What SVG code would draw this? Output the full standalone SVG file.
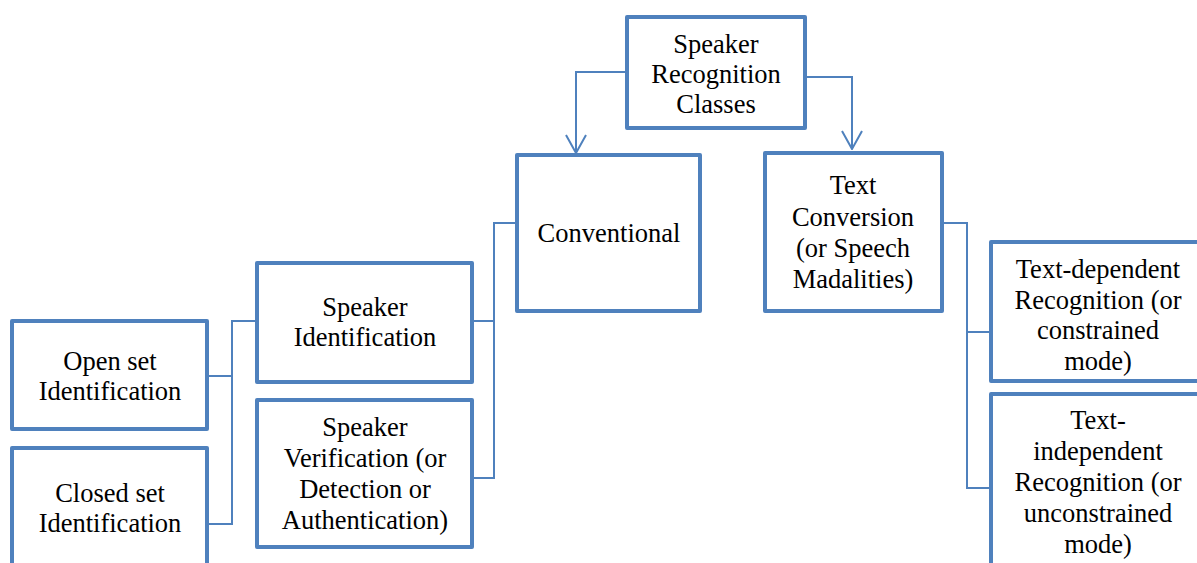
<svg xmlns="http://www.w3.org/2000/svg" width="1197" height="563" viewBox="0 0 1197 563">
<style>
.box{fill:#fff;stroke:#4F81BD;stroke-width:4;stroke-linejoin:round}
.con{fill:none;stroke:#4F81BD;stroke-width:2}
text{font-family:"Liberation Serif","Times New Roman",serif;font-size:26.5px;fill:#000;text-anchor:middle}
</style>
<defs>
<marker id="arr" viewBox="0 0 20 22" refX="19" refY="11" markerWidth="20" markerHeight="22" markerUnits="userSpaceOnUse" orient="auto">
<path d="M1,1 L19,11 L1,21" fill="none" stroke="#4F81BD" stroke-width="2"/>
</marker>
</defs>
<rect width="1197" height="563" fill="#fff"/>
<g id="connectors">
<path class="con" d="M627,72 H576 V153" marker-end="url(#arr)"/>
<path class="con" d="M805,77 H852 V149" marker-end="url(#arr)"/>
<path class="con" d="M517,223 H494 V478 H472 M494,321 H472"/>
<path class="con" d="M257,321 H232 V524 H207 M232,376 H207"/>
<path class="con" d="M942,223 H967 V488 H991 M967,332 H991"/>
</g>
<g id="root">
<rect class="box" x="627" y="17" width="178" height="111"/>
<text x="716" y="53">Speaker</text>
<text x="716" y="83">Recognition</text>
<text x="716" y="113">Classes</text>
</g>
<g id="conventional">
<rect class="box" x="517" y="155" width="183" height="156"/>
<text x="609" y="242">Conventional</text>
</g>
<g id="text-conversion">
<rect class="box" x="765" y="153" width="177" height="158"/>
<text x="853" y="194">Text</text>
<text x="853" y="226">Conversion</text>
<text x="853" y="257">(or Speech</text>
<text x="853" y="288">Madalities)</text>
</g>
<g id="speaker-identification">
<rect class="box" x="257" y="263" width="215" height="119"/>
<text x="365" y="316">Speaker</text>
<text x="365" y="346">Identification</text>
</g>
<g id="speaker-verification">
<rect class="box" x="257" y="400" width="215" height="147"/>
<text x="365" y="436">Speaker</text>
<text x="365" y="467">Verification (or</text>
<text x="365" y="498">Detection or</text>
<text x="365" y="529">Authentication)</text>
</g>
<g id="open-set">
<rect class="box" x="12" y="321" width="195" height="108"/>
<text x="110" y="370">Open set</text>
<text x="110" y="400">Identification</text>
</g>
<g id="closed-set">
<rect class="box" x="12" y="448" width="195" height="160"/>
<text x="110" y="502">Closed set</text>
<text x="110" y="532">Identification</text>
</g>
<g id="text-dependent">
<rect class="box" x="991" y="242" width="214" height="139"/>
<text x="1098" y="278">Text-dependent</text>
<text x="1098" y="309">Recognition (or</text>
<text x="1098" y="339">constrained</text>
<text x="1098" y="370">mode)</text>
</g>
<g id="text-independent">
<rect class="box" x="991" y="394" width="214" height="200"/>
<text x="1098" y="429">Text-</text>
<text x="1098" y="460">independent</text>
<text x="1098" y="491">Recognition (or</text>
<text x="1098" y="522">unconstrained</text>
<text x="1098" y="553">mode)</text>
</g>
</svg>
